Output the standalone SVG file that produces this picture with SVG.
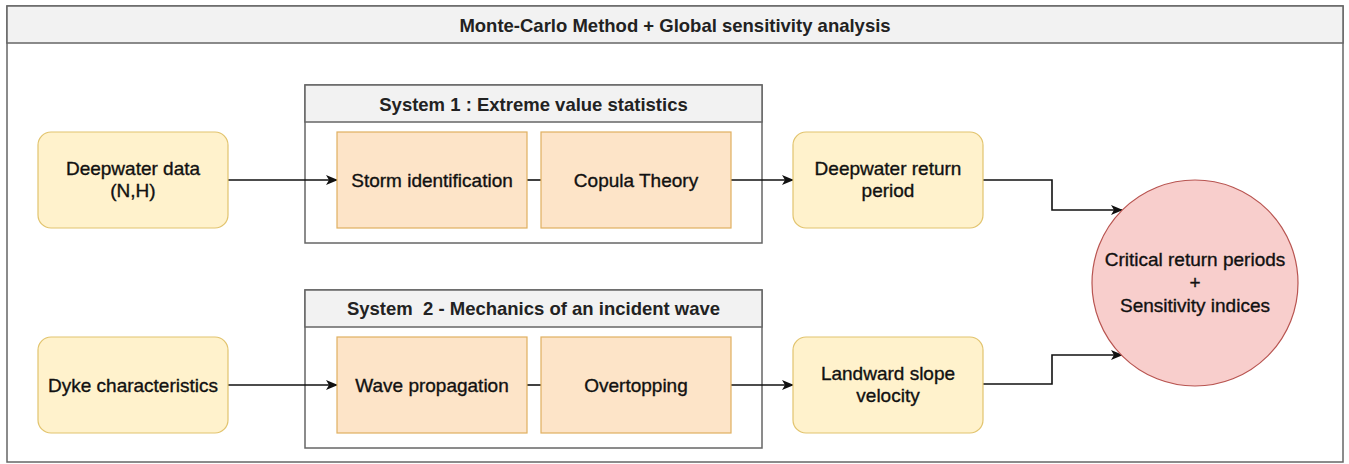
<svg xmlns="http://www.w3.org/2000/svg" width="1349" height="464" viewBox="0 0 1349 464">
<style>
.frame{fill:#ffffff;stroke:#666666;stroke-width:1.5}
.hdr{fill:#f2f2f2;stroke:#666666;stroke-width:1.5}
.io{fill:#fff2cc;stroke:#e2c46e;stroke-width:1.2}
.proc{fill:#fde4c8;stroke:#e0b060;stroke-width:1.2}
.circ{fill:#f8cecc;stroke:#b85450;stroke-width:1.2}
.t{font-family:"Liberation Sans",Arial,sans-serif;font-size:19px;fill:#111111;text-anchor:middle;stroke:#111111;stroke-width:0.35}
.tb{font-family:"Liberation Sans",Arial,sans-serif;font-size:18.5px;font-weight:bold;fill:#222222;text-anchor:middle}
.c{fill:none;stroke:#111111;stroke-width:1.6}
</style>
<defs>
<marker id="arr" viewBox="0 0 12 10" refX="11" refY="5" markerWidth="12" markerHeight="10" markerUnits="userSpaceOnUse" orient="auto">
<path d="M0,0 L12,5 L0,10 L3,5 z" fill="#111111"/>
</marker>
</defs>
<g id="outer">
<rect class="frame" x="7" y="6" width="1336" height="456"/>
<rect class="hdr" x="7" y="6" width="1336" height="37"/>
<text class="tb" x="675" y="32">Monte-Carlo Method + Global sensitivity analysis</text>
</g>
<g id="system1">
<rect class="frame" x="305" y="85" width="457" height="158"/>
<rect class="hdr" x="305" y="85" width="457" height="37"/>
<text class="tb" x="533.5" y="111">System 1 : Extreme value statistics</text>
</g>
<g id="system2">
<rect class="frame" x="305" y="290" width="457" height="158"/>
<rect class="hdr" x="305" y="290" width="457" height="37"/>
<text class="tb" x="533.5" y="315">System&#160; 2 - Mechanics of an incident wave</text>
</g>
<g id="connectors">
<path class="c" d="M228,180 L337,180" marker-end="url(#arr)"/>
<path class="c" d="M527,180 L541,180"/>
<path class="c" d="M731,180 L793,180" marker-end="url(#arr)"/>
<path class="c" d="M983,180 L1052,180 L1052,210 L1122,210" marker-end="url(#arr)"/>
<path class="c" d="M228,385 L337,385" marker-end="url(#arr)"/>
<path class="c" d="M527,385 L541,385"/>
<path class="c" d="M731,385 L793,385" marker-end="url(#arr)"/>
<path class="c" d="M983,384 L1052,384 L1052,355 L1122,355" marker-end="url(#arr)"/>
</g>
<g id="deepwater-data">
<rect class="io" x="38" y="132" width="190" height="96" rx="13"/>
<text class="t" x="133" y="175">Deepwater data</text>
<text class="t" x="133" y="197">(N,H)</text>
</g>
<g id="storm-identification">
<rect class="proc" x="337" y="132" width="190" height="96"/>
<text class="t" x="432" y="187">Storm identification</text>
</g>
<g id="copula-theory">
<rect class="proc" x="541" y="132" width="190" height="96"/>
<text class="t" x="636" y="187">Copula Theory</text>
</g>
<g id="deepwater-return-period">
<rect class="io" x="793" y="132" width="190" height="96" rx="13"/>
<text class="t" x="888" y="175">Deepwater return</text>
<text class="t" x="888" y="197">period</text>
</g>
<g id="dyke-characteristics">
<rect class="io" x="38" y="337" width="190" height="96" rx="13"/>
<text class="t" x="133" y="392">Dyke characteristics</text>
</g>
<g id="wave-propagation">
<rect class="proc" x="337" y="337" width="190" height="96"/>
<text class="t" x="432" y="392">Wave propagation</text>
</g>
<g id="overtopping">
<rect class="proc" x="541" y="337" width="190" height="96"/>
<text class="t" x="636" y="392">Overtopping</text>
</g>
<g id="landward-slope-velocity">
<rect class="io" x="793" y="337" width="190" height="96" rx="13"/>
<text class="t" x="888" y="380">Landward slope</text>
<text class="t" x="888" y="402">velocity</text>
</g>
<g id="critical-return-periods">
<circle class="circ" cx="1195" cy="283" r="103"/>
<text class="t" x="1195" y="266">Critical return periods</text>
<text class="t" x="1195" y="289">+</text>
<text class="t" x="1195" y="312">Sensitivity indices</text>
</g>
</svg>
